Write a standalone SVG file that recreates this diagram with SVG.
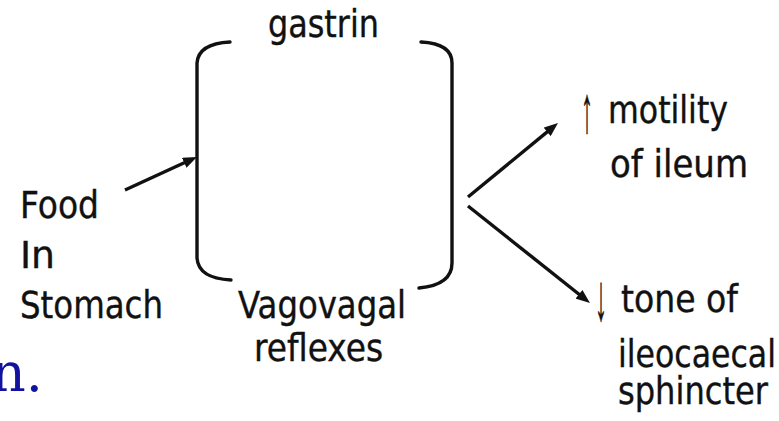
<svg xmlns="http://www.w3.org/2000/svg" width="779" height="421" viewBox="0 0 779 421">
  <style>
    .t { font-family: "DejaVu Sans", "Liberation Sans", sans-serif; font-size: 37px; fill: #111; stroke: #111; stroke-width: 0.4px; }
    .ar { font-family: "Liberation Sans", "DejaVu Sans", sans-serif; font-size: 66px; fill: #111; stroke: #111; stroke-width: 0.6px; }
    .br { fill: none; stroke: #111; stroke-width: 3.4; stroke-linecap: round; }
    .cn { fill: none; stroke: #111; stroke-width: 3.4; marker-end: url(#ah); }
    .blue { font-family: "DejaVu Serif", "Liberation Serif", serif; font-size: 54px; fill: #1212a0; }
  </style>
  <defs>
    <marker id="ah" viewBox="0 0 14 11" markerWidth="14" markerHeight="11" refX="6" refY="5.5" markerUnits="userSpaceOnUse" orient="auto">
      <path d="M0,0 L14,5.5 L0,11 z" fill="#111"/>
    </marker>
  </defs>
  <rect width="779" height="421" fill="#fff"/>

  <g id="food">
    <text class="t" x="20" y="218" textLength="79" lengthAdjust="spacingAndGlyphs">Food</text>
    <text class="t" x="20" y="268" textLength="35" lengthAdjust="spacingAndGlyphs">In</text>
    <text class="t" x="20" y="318" textLength="143" lengthAdjust="spacingAndGlyphs">Stomach</text>
  </g>

  <g id="bracket">
    <path class="br" d="M230,42 C209,43 198,50 197,63 L197,258 C198,272 210,279 231,280"/>
    <path class="br" d="M421,42 C441,43 452,50 452,63 L452,263 C452,278 441,286 419,288"/>
  </g>

  <g id="gastrin">
    <text class="t" x="268" y="37" textLength="111" lengthAdjust="spacingAndGlyphs">gastrin</text>
  </g>

  <g id="vagovagal">
    <text class="t" x="238" y="318" textLength="168" lengthAdjust="spacingAndGlyphs">Vagovagal</text>
    <text class="t" x="254" y="361" textLength="129" lengthAdjust="spacingAndGlyphs">reflexes</text>
  </g>

  <g id="motility">
    <text class="t"><tspan class="ar" x="581" y="132" textLength="12" lengthAdjust="spacingAndGlyphs">↑</tspan><tspan x="608" y="123" textLength="120" lengthAdjust="spacingAndGlyphs">motility</tspan></text>
    <text class="t" x="610" y="177" textLength="138" lengthAdjust="spacingAndGlyphs">of ileum</text>
  </g>

  <g id="tone">
    <text class="t"><tspan class="ar" x="595" y="320" textLength="12" lengthAdjust="spacingAndGlyphs">↓</tspan><tspan x="621" y="312" textLength="117" lengthAdjust="spacingAndGlyphs">tone of</tspan></text>
    <text class="t" x="618" y="367" textLength="158" lengthAdjust="spacingAndGlyphs">ileocaecal</text>
    <text class="t" x="618" y="404" textLength="150" lengthAdjust="spacingAndGlyphs">sphincter</text>
  </g>

  <g id="fragment">
    <text class="blue" x="-9" y="391">n.</text>
  </g>

  <g id="connectors">
    <line class="cn" x1="125" y1="190" x2="189.7" y2="160.3"/>
    <line class="cn" x1="468" y1="197" x2="551.8" y2="128.1"/>
    <line class="cn" x1="468" y1="206" x2="583.7" y2="298"/>
  </g>
</svg>
